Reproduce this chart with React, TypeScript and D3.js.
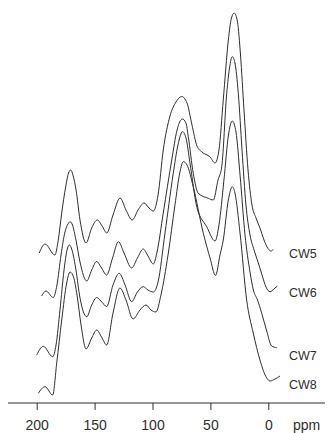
import { useEffect, useRef } from "react";
import * as d3 from "d3";

// chemical shift ticks (ppm)
const ppmTicks = [200, 150, 100, 50, 0];
const labels = ["CW5", "CW6", "CW7", "CW8"];
// label height (same units as intensity)
const labelLevels = [150, 111, 48, 19];

// [ppm, intensity], offsets already included
const cw5: [number, number][] = [
  [197.8, 150], [192.8, 159], [184.3, 148], [181.4, 163], [178.4, 190], [175, 216],
  [172.5, 230], [170.6, 233], [168.7, 228], [166, 213], [162.6, 183], [157.4, 160],
  [152.5, 175], [147.7, 183], [143.5, 177], [139.5, 170], [134.1, 188], [128, 205],
  [122.9, 193], [117.5, 183], [112.5, 193], [107.3, 200], [103, 195], [99.3, 192],
  [95.2, 208], [90.7, 253], [84.9, 287], [79.7, 301], [74.8, 306.5], [70.2, 300],
  [65.9, 278], [61.6, 257], [57.3, 251], [50.3, 246], [46, 240], [42.6, 253],
  [38.9, 303], [34.5, 363], [31.8, 385], [29.4, 390], [26.6, 381], [24, 348],
  [21, 293], [17.5, 233], [14.1, 198], [10.6, 185], [7.2, 175], [3.7, 163],
  [0.3, 154.5], [-2.5, 152], [-4.3, 153.7],
];

const cw6: [number, number][] = [
  [195.7, 107], [192, 112], [185.7, 105.5], [182.5, 118], [179, 148], [175.6, 171],
  [173, 179], [171.2, 181.3], [169.1, 178], [166.1, 163], [162.6, 141], [156.8, 122],
  [152.5, 133], [148.2, 141.5], [144.5, 136], [139.6, 128], [134.5, 145], [129.4, 161.3],
  [124.6, 150], [118, 135], [113, 145], [108, 154], [103.9, 147], [99.3, 139],
  [96.1, 151], [90.7, 190], [83.4, 243], [78.8, 273], [74.3, 284], [71.1, 280],
  [69.1, 266.3], [64.8, 229.7], [60.5, 209.7], [51.8, 204.7], [47.5, 203], [43.4, 223],
  [40.2, 236.3], [35.9, 309.7], [33.5, 335], [31.1, 346.3], [28.8, 340], [25.9, 309.7],
  [22.7, 253], [19.3, 198], [15.8, 168], [12.3, 153], [8.9, 141], [5.4, 128],
  [2, 116], [-1.5, 111.3], [-4.9, 114], [-7.8, 117],
];

const cw7: [number, number][] = [
  [200, 48], [194.3, 56.7], [186.2, 46.3], [183.3, 58], [179.9, 93], [176.4, 133],
  [173.8, 153], [171.8, 158], [169.5, 153], [166.1, 133], [162.6, 105], [156.8, 86.3],
  [152.5, 98], [148.2, 105.5], [144.5, 102], [139.6, 96.5], [134.1, 118], [128.7, 129.7],
  [123.7, 118], [118, 101.3], [113, 111], [108, 116.3], [103.9, 113], [99.3, 111],
  [95.2, 121], [89.2, 170], [82.3, 228], [78, 258], [74.1, 271.3], [71.1, 265],
  [67.6, 239.7], [61.8, 196.3], [53.2, 176.3], [46, 162], [42.6, 178], [38.3, 223],
  [34.4, 268], [31.1, 282], [27.9, 271], [24.4, 228], [20.1, 168], [15.8, 131],
  [12.9, 113], [9.3, 103], [5.7, 89.7], [1.6, 73], [-2.9, 57], [-7.3, 55.3],
];

const cw8: [number, number][] = [
  [198.6, 9.7], [192.8, 16.3], [186.2, 8], [182.7, 40], [178.4, 83], [174.1, 120],
  [171.2, 131], [168.2, 126], [165.2, 108], [161.7, 78], [157.4, 54], [152.5, 65],
  [148.2, 73], [144, 66], [139.6, 58], [134.1, 90], [128.1, 115], [122.9, 103],
  [116.8, 84], [110.8, 93], [105.6, 98], [101.3, 93], [97, 91], [92.7, 108],
  [86.6, 148], [80.6, 198], [76.3, 231], [73.4, 241.3], [70.2, 238], [64.8, 216.3],
  [56.1, 169.7], [50.3, 145], [45.6, 127.5], [41.7, 148], [38.9, 163], [34.5, 203],
  [31.1, 216.3], [28.8, 210], [24.4, 170], [18.7, 103], [13, 70], [7.2, 43],
  [1.4, 25], [-1.5, 22], [-5.8, 24], [-10.1, 27],
];

const spectra = [cw5, cw6, cw7, cw8];

export default function App() {
  const ref = useRef<SVGSVGElement>(null);

  useEffect(() => {
    const svg = d3.select(ref.current);
    svg.selectAll("*").remove();

    const x = d3.scaleLinear().domain([200, 0]).range([36.7, 268.3]);
    const y = d3.scaleLinear().domain([0, 400]).range([403, 3]);
    const ink = "#2e2e2e";
    const font = "Liberation Sans, Arial, sans-serif";

    const line = d3
      .line<[number, number]>()
      .x((d) => x(d[0]))
      .y((d) => y(d[1]))
      .curve(d3.curveMonotoneX);

    // the four stacked spectra
    spectra.forEach((s) => {
      svg
        .append("path")
        .datum([...s].reverse())
        .attr("fill", "none")
        .attr("stroke", ink)
        .attr("stroke-width", 1)
        .attr("d", line);
    });

    // sample names on the right
    labels.forEach((name, i) => {
      svg
        .append("text")
        .attr("x", 289)
        .attr("y", y(labelLevels[i]))
        .attr("dy", "0.36em")
        .style("font-family", font)
        .style("font-size", "12.5px")
        .style("fill", ink)
        .text(name);
    });

    // ppm axis
    const axis = svg
      .append("g")
      .attr("transform", `translate(0,${y(0)})`)
      .call(d3.axisBottom(x).tickValues(ppmTicks).tickSize(7));
    axis.select(".domain").attr("d", "M8,0H325").attr("stroke", ink);
    axis.selectAll(".tick line").attr("stroke", ink);
    axis
      .selectAll(".tick text")
      .attr("y", 27)
      .attr("dy", null)
      .style("font-family", font)
      .style("font-size", "14px")
      .style("fill", ink);

    svg
      .append("text")
      .attr("x", 293)
      .attr("y", 430)
      .style("font-family", font)
      .style("font-size", "14px")
      .style("fill", ink)
      .text("ppm");
  }, []);

  return (
    <svg
      ref={ref}
      width={329}
      height={433}
      style={{ position: "absolute", left: 0, top: 0, background: "#fff" }}
    />
  );
}
